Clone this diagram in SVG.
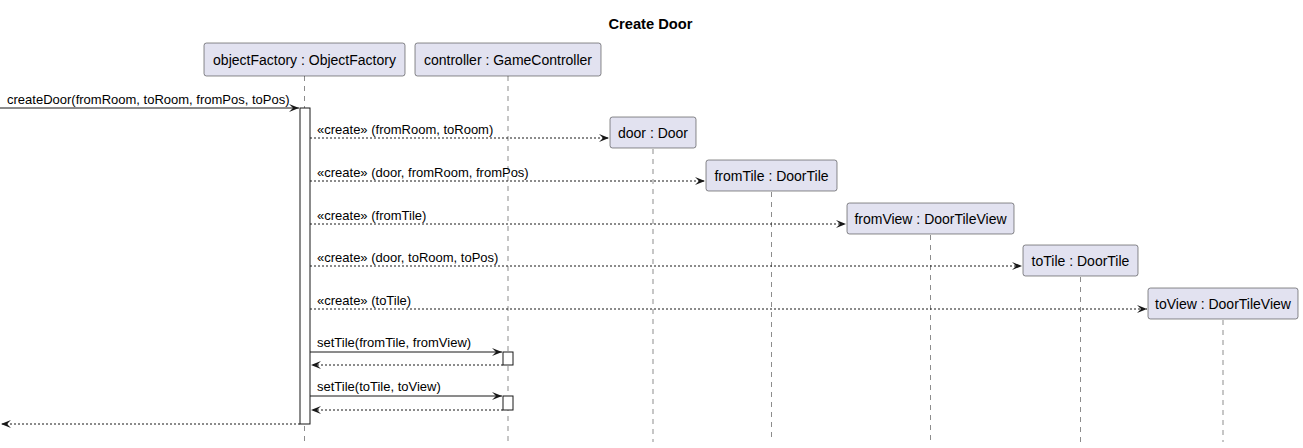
<svg xmlns="http://www.w3.org/2000/svg" width="1303" height="448" viewBox="0 0 1303 448">
<defs>
<style>
.bg{fill:#FFFFFF}
.box{fill:#E2E2F0;stroke:#181818;stroke-width:0.5}
.pt{font-family:"Liberation Sans",Arial,sans-serif;font-size:14px;fill:#000;text-anchor:middle}
.life{stroke:#181818;stroke-width:0.5;stroke-dasharray:5,5;fill:none}
.act{fill:#FFFFFF;stroke:#181818;stroke-width:1}
.msg{stroke:#181818;stroke-width:1;fill:none}
.dash{stroke-dasharray:2,2}
.ml{font-family:"Liberation Sans",Arial,sans-serif;font-size:13px;fill:#000}
.title{font-family:"Liberation Sans",Arial,sans-serif;font-size:14.7px;font-weight:bold;fill:#000;text-anchor:middle}
</style>
<marker id="ah" viewBox="0 0 10 8" refX="10" refY="4" markerWidth="10" markerHeight="8" markerUnits="userSpaceOnUse" orient="auto">
<polygon points="0,0 10,4 0,8 4,4" fill="#181818"/>
</marker>
</defs>
<rect class="bg" x="0" y="0" width="1303" height="448"/>
<text class="title" x="650.5" y="29">Create Door</text>

<g id="lifelines">
<line class="life" x1="304.5" y1="76" x2="304.5" y2="442"/>
<line class="life" x1="508" y1="76" x2="508" y2="442"/>
<line class="life" x1="653" y1="149" x2="653" y2="442"/>
<line class="life" x1="771.5" y1="192" x2="771.5" y2="442"/>
<line class="life" x1="930.5" y1="235" x2="930.5" y2="442"/>
<line class="life" x1="1080.5" y1="277" x2="1080.5" y2="442"/>
<line class="life" x1="1223" y1="320" x2="1223" y2="442"/>
</g>

<g id="objectFactory">
<rect class="box" x="204" y="43" width="201" height="33" rx="2.5"/>
<text class="pt" x="304.5" y="65">objectFactory : ObjectFactory</text>
<rect class="act" x="300" y="108" width="10" height="316"/>
</g>
<g id="controller">
<rect class="box" x="415" y="43" width="186" height="33" rx="2.5"/>
<text class="pt" x="508" y="65">controller : GameController</text>
<rect class="act" x="503" y="352" width="10" height="13"/>
<rect class="act" x="503" y="396" width="10" height="14"/>
</g>
<g id="door">
<rect class="box" x="610" y="117" width="86" height="31" rx="2.5"/>
<text class="pt" x="653" y="138">door : Door</text>
</g>
<g id="fromTile">
<rect class="box" x="706" y="160" width="131" height="31" rx="2.5"/>
<text class="pt" x="771.5" y="181">fromTile : DoorTile</text>
</g>
<g id="fromView">
<rect class="box" x="847" y="203" width="167" height="31" rx="2.5"/>
<text class="pt" x="930.5" y="224">fromView : DoorTileView</text>
</g>
<g id="toTile">
<rect class="box" x="1023" y="245" width="115" height="31" rx="2.5"/>
<text class="pt" x="1080.5" y="266">toTile : DoorTile</text>
</g>
<g id="toView">
<rect class="box" x="1148" y="288" width="150" height="31" rx="2.5"/>
<text class="pt" x="1223" y="309">toView : DoorTileView</text>
</g>

<g id="connectors">
<line class="msg" x1="0" y1="108" x2="299" y2="108" marker-end="url(#ah)"/>
<text class="ml" x="7" y="104">createDoor(fromRoom, toRoom, fromPos, toPos)</text>

<line class="msg dash" x1="310" y1="138" x2="609" y2="138" marker-end="url(#ah)"/>
<text class="ml" x="317" y="134">«create» (fromRoom, toRoom)</text>

<line class="msg dash" x1="310" y1="181" x2="705" y2="181" marker-end="url(#ah)"/>
<text class="ml" x="317" y="177">«create» (door, fromRoom, fromPos)</text>

<line class="msg dash" x1="310" y1="224" x2="846" y2="224" marker-end="url(#ah)"/>
<text class="ml" x="317" y="220">«create» (fromTile)</text>

<line class="msg dash" x1="310" y1="266" x2="1022" y2="266" marker-end="url(#ah)"/>
<text class="ml" x="317" y="262">«create» (door, toRoom, toPos)</text>

<line class="msg dash" x1="310" y1="309" x2="1147" y2="309" marker-end="url(#ah)"/>
<text class="ml" x="317" y="305">«create» (toTile)</text>

<line class="msg" x1="310" y1="352" x2="502" y2="352" marker-end="url(#ah)"/>
<text class="ml" x="317" y="347">setTile(fromTile, fromView)</text>
<line class="msg dash" x1="503" y1="365" x2="311" y2="365" marker-end="url(#ah)"/>

<line class="msg" x1="310" y1="396" x2="502" y2="396" marker-end="url(#ah)"/>
<text class="ml" x="317" y="391">setTile(toTile, toView)</text>
<line class="msg dash" x1="503" y1="410" x2="311" y2="410" marker-end="url(#ah)"/>

<line class="msg dash" x1="300" y1="424" x2="1" y2="424" marker-end="url(#ah)"/>
</g>
</svg>
